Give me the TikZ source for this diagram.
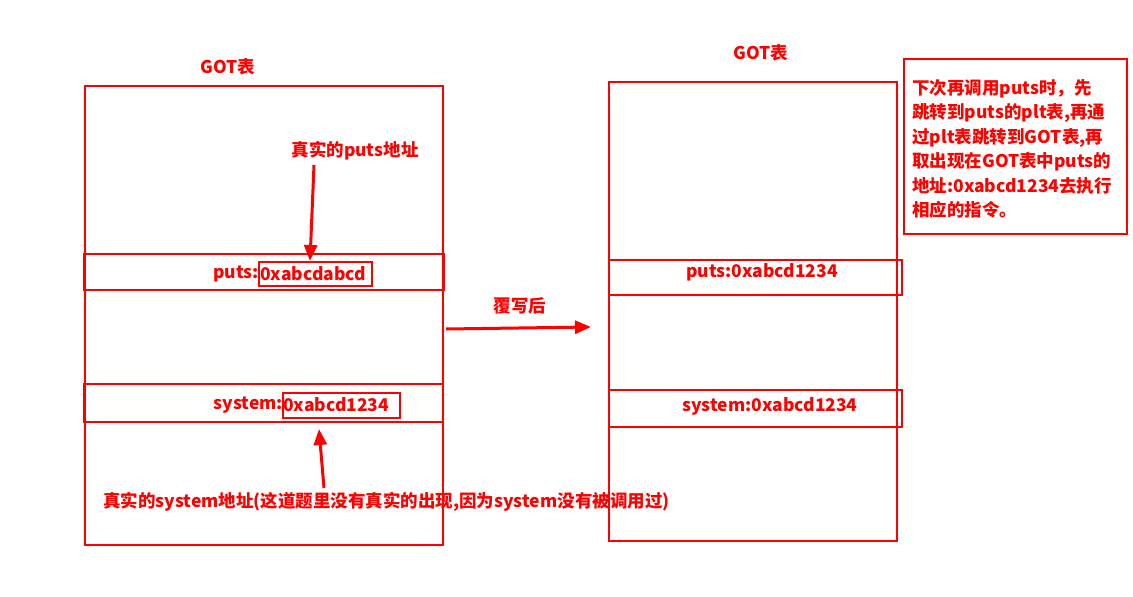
\documentclass[tikz,border=0pt]{standalone}
\usepackage{fontspec}
\setmainfont{Noto Sans CJK SC}
\usetikzlibrary{arrows.meta}
\begin{document}
\begin{tikzpicture}[x=1pt,y=-1pt,
  box/.style={draw=red,line width=2pt},
  lbl/.style={text=red,font=\fontsize{17.5}{24.5}\selectfont\bfseries,inner sep=0pt},
  arr/.style={draw=red,line width=3pt,-{Triangle[length=16pt,width=13pt]}}]
\useasboundingbox (0,0) rectangle (1133,597);
% left table
\draw[box] (85,86) rectangle (443,545);
\draw[box] (84,254) rectangle (444,290);
\draw[box] (84,384) rectangle (443,422);
\node[box,minimum width=113pt,minimum height=24pt,inner sep=0pt,anchor=west] (lputsbox) at (258,274) {};
\node[lbl,anchor=west] (lputsv) at (260,274) {0xabcdabcd};
\node[lbl,anchor=east] (lputs) at (259,274) {puts:};
\node[box,minimum width=117pt,minimum height=25pt,inner sep=0pt,anchor=west] (lsysbox) at (282,405.5) {};
\node[lbl,anchor=west] (lsysv) at (283,405) {0xabcd1234};
\node[lbl,anchor=east] (lsys) at (283,405) {system:};
\node[lbl] (gotl) at (228,67) {GOT表};
\node[lbl] (realputs) at (355,151) {真实的puts地址};
\node[lbl,anchor=west] (realsys) at (103,502) {真实的system地址(这道题里没有真实的出现,因为system没有被调用过)};
\coordinate (pa) at (314,165);
\coordinate (sa) at (324,488);
\draw[arr] (pa) -- (lputsbox.north -| 310,0);
\draw[arr] (sa) -- (319,429);
% middle
\coordinate (ma) at (446,329);
\coordinate (mb) at (591,327);
\draw[arr] (ma) -- (mb);
\node[lbl] (over) at (520,306) {覆写后};
% right table
\draw[box] (609,82) rectangle (897,541);
\draw[box] (609,260) rectangle (902,295);
\draw[box] (609,390) rectangle (902,427);
\node[lbl] (rputs) at (762,272) {puts:0xabcd1234};
\node[lbl] (rsys) at (770,406) {system:0xabcd1234};
\node[lbl] (gotr) at (761,53) {GOT表};
% note
\draw[box] (904,59) rectangle (1127,234);
\node[lbl,anchor=north west,align=left] (note) at (912,79) {下次再调用puts时，先\\跳转到puts的plt表,再通\\过plt表跳转到GOT表,再\\取出现在GOT表中puts的\\地址:0xabcd1234去执行\\相应的指令。};
\end{tikzpicture}
\end{document}
